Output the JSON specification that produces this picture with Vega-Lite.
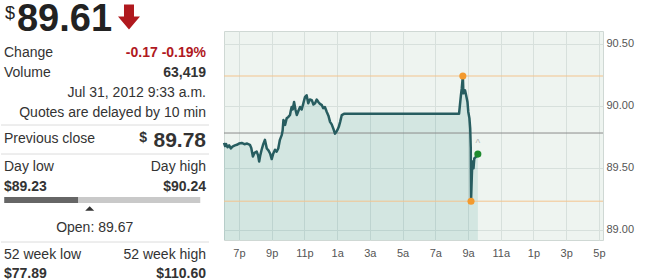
{
  "$schema": "https://vega.github.io/schema/vega-lite/v6.json",
  "background": "white",
  "padding": 0,
  "spacing": 12,
  "config": {"font": "Liberation Sans", "view": {"stroke": null}},
  "datasets": {
    "header": [{"symbol": "$", "price": 89.61, "change": -0.17, "line": -0.125, "side": "left"}],
    "table": [
      {"text": "Change", "side": "left", "line": 1, "role": "label"},
      {"text": "-0.17 -0.19%", "side": "right", "line": 1, "role": "change"},
      {"text": "Volume", "side": "left", "line": 2, "role": "label"},
      {"text": "63,419", "side": "right", "line": 2, "role": "value"},
      {"text": "Jul 31, 2012 9:33 a.m.", "side": "right", "line": 3, "role": "label"},
      {"text": "Quotes are delayed by 10 min", "side": "right", "line": 4, "role": "label"},
      {"text": "Previous close", "side": "left", "line": 5.3, "role": "label"},
      {"text": "Day low", "side": "left", "line": 6.7, "role": "label"},
      {"text": "Day high", "side": "right", "line": 6.7, "role": "label"},
      {"text": "$89.23", "side": "left", "line": 7.7, "role": "value"},
      {"text": "$90.24", "side": "right", "line": 7.7, "role": "value"},
      {"text": "52 week low", "side": "left", "line": 11.1, "role": "label"},
      {"text": "52 week high", "side": "right", "line": 11.1, "role": "label"},
      {"text": "$77.89", "side": "left", "line": 12.07, "role": "value"},
      {"text": "$110.60", "side": "right", "line": 12.07, "role": "value"}
    ],
    "prev": [{"label": "Previous close", "symbol": "$", "value": 89.78, "line": 5.3, "side": "right"}],
    "dayrange": [{"low": 89.23, "high": 90.24, "price": 89.61, "open": 89.67, "line": 8.35}],
    "separators": [{"line": 4.6}, {"line": 6.05}, {"line": 10.45}],
    "levels": [
      {"level": "Day high", "price": 90.24},
      {"level": "Day low", "price": 89.23},
      {"level": "Previous close", "price": 89.78}
    ],
    "points": [
      {"kind": "high", "t": "2012-07-31T08:41", "price": 90.24},
      {"kind": "low", "t": "2012-07-31T09:11", "price": 89.23},
      {"kind": "last", "t": "2012-07-31T09:36", "price": 89.61}
    ],
    "series": [
      {"t": "2012-07-30T18:05", "price": 89.70},
      {"t": "2012-07-30T18:09", "price": 89.675},
      {"t": "2012-07-30T18:13", "price": 89.69},
      {"t": "2012-07-30T18:18", "price": 89.665},
      {"t": "2012-07-30T18:24", "price": 89.68},
      {"t": "2012-07-30T18:30", "price": 89.655},
      {"t": "2012-07-30T18:36", "price": 89.67},
      {"t": "2012-07-30T18:45", "price": 89.68},
      {"t": "2012-07-30T18:52", "price": 89.685},
      {"t": "2012-07-30T19:00", "price": 89.695},
      {"t": "2012-07-30T19:10", "price": 89.70},
      {"t": "2012-07-30T19:20", "price": 89.69},
      {"t": "2012-07-30T19:30", "price": 89.695},
      {"t": "2012-07-30T19:40", "price": 89.685},
      {"t": "2012-07-30T19:45", "price": 89.66},
      {"t": "2012-07-30T19:51", "price": 89.59},
      {"t": "2012-07-30T19:57", "price": 89.62},
      {"t": "2012-07-30T20:05", "price": 89.63},
      {"t": "2012-07-30T20:10", "price": 89.60},
      {"t": "2012-07-30T20:14", "price": 89.55},
      {"t": "2012-07-30T20:18", "price": 89.60},
      {"t": "2012-07-30T20:23", "price": 89.645},
      {"t": "2012-07-30T20:29", "price": 89.69},
      {"t": "2012-07-30T20:35", "price": 89.725},
      {"t": "2012-07-30T20:42", "price": 89.655},
      {"t": "2012-07-30T20:48", "price": 89.64},
      {"t": "2012-07-30T20:54", "price": 89.615},
      {"t": "2012-07-30T21:00", "price": 89.57},
      {"t": "2012-07-30T21:05", "price": 89.61},
      {"t": "2012-07-30T21:12", "price": 89.645},
      {"t": "2012-07-30T21:18", "price": 89.63},
      {"t": "2012-07-30T21:24", "price": 89.655},
      {"t": "2012-07-30T21:30", "price": 89.725},
      {"t": "2012-07-30T21:37", "price": 89.765},
      {"t": "2012-07-30T21:40", "price": 89.80},
      {"t": "2012-07-30T21:43", "price": 89.885},
      {"t": "2012-07-30T21:46", "price": 89.86},
      {"t": "2012-07-30T21:49", "price": 89.845},
      {"t": "2012-07-30T21:55", "price": 89.90},
      {"t": "2012-07-30T22:01", "price": 89.91},
      {"t": "2012-07-30T22:07", "price": 89.925},
      {"t": "2012-07-30T22:10", "price": 89.96},
      {"t": "2012-07-30T22:13", "price": 89.99},
      {"t": "2012-07-30T22:17", "price": 89.97},
      {"t": "2012-07-30T22:22", "price": 90.03},
      {"t": "2012-07-30T22:27", "price": 89.97},
      {"t": "2012-07-30T22:32", "price": 89.925},
      {"t": "2012-07-30T22:38", "price": 89.96},
      {"t": "2012-07-30T22:44", "price": 89.99},
      {"t": "2012-07-30T22:50", "price": 89.97},
      {"t": "2012-07-30T22:56", "price": 90.02},
      {"t": "2012-07-30T23:02", "price": 90.07},
      {"t": "2012-07-30T23:08", "price": 90.085},
      {"t": "2012-07-30T23:14", "price": 90.02},
      {"t": "2012-07-30T23:20", "price": 90.05},
      {"t": "2012-07-30T23:27", "price": 90.045},
      {"t": "2012-07-30T23:33", "price": 90.01},
      {"t": "2012-07-30T23:39", "price": 90.02},
      {"t": "2012-07-30T23:45", "price": 90.05},
      {"t": "2012-07-30T23:51", "price": 90.03},
      {"t": "2012-07-30T23:57", "price": 90.015},
      {"t": "2012-07-31T00:04", "price": 90.005},
      {"t": "2012-07-31T00:09", "price": 89.98},
      {"t": "2012-07-31T00:15", "price": 89.99},
      {"t": "2012-07-31T00:22", "price": 89.95},
      {"t": "2012-07-31T00:28", "price": 89.92},
      {"t": "2012-07-31T00:34", "price": 89.87},
      {"t": "2012-07-31T00:40", "price": 89.85},
      {"t": "2012-07-31T00:46", "price": 89.815},
      {"t": "2012-07-31T00:52", "price": 89.775},
      {"t": "2012-07-31T00:57", "price": 89.79},
      {"t": "2012-07-31T01:01", "price": 89.805},
      {"t": "2012-07-31T01:06", "price": 89.83},
      {"t": "2012-07-31T01:11", "price": 89.87},
      {"t": "2012-07-31T01:17", "price": 89.925},
      {"t": "2012-07-31T01:25", "price": 89.935},
      {"t": "2012-07-31T08:27", "price": 89.935},
      {"t": "2012-07-31T08:34", "price": 90.085},
      {"t": "2012-07-31T08:37", "price": 90.14},
      {"t": "2012-07-31T08:41", "price": 90.24},
      {"t": "2012-07-31T08:43", "price": 90.10},
      {"t": "2012-07-31T08:49", "price": 90.125},
      {"t": "2012-07-31T08:53", "price": 90.085},
      {"t": "2012-07-31T08:58", "price": 90.03},
      {"t": "2012-07-31T09:01", "price": 89.95},
      {"t": "2012-07-31T09:05", "price": 89.90},
      {"t": "2012-07-31T09:08", "price": 89.815},
      {"t": "2012-07-31T09:10", "price": 89.655},
      {"t": "2012-07-31T09:11", "price": 89.23},
      {"t": "2012-07-31T09:14", "price": 89.44},
      {"t": "2012-07-31T09:16", "price": 89.55},
      {"t": "2012-07-31T09:20", "price": 89.495},
      {"t": "2012-07-31T09:23", "price": 89.575},
      {"t": "2012-07-31T09:30", "price": 89.59},
      {"t": "2012-07-31T09:36", "price": 89.61}
    ]
  },
  "hconcat": [
    {
      "width": 208,
      "height": 251,
      "view": {"stroke": null},
      "resolve": {"scale": {"x": "independent"}},
      "encoding": {
        "y": {"field": "line", "type": "quantitative", "scale": {"domain": [-0.1, 12.45], "reverse": true, "zero": false, "nice": false}, "axis": null}
      },
      "layer": [
        {
          "data": {"name": "separators"},
          "mark": {"type": "rule", "color": "#dcdcdc", "strokeWidth": 1},
          "encoding": {}
        },
        {
          "data": {"name": "header"},
          "mark": {"type": "text", "align": "left", "baseline": "alphabetic", "fontSize": 18, "dx": 1, "dy": -12, "color": "#222"},
          "encoding": {
            "x": {"field": "side", "type": "nominal", "scale": {"type": "point", "domain": ["left", "right"], "padding": 0.0148}, "axis": null},
            "text": {"field": "symbol"}
          }
        },
        {
          "data": {"name": "header"},
          "mark": {"type": "text", "align": "left", "baseline": "alphabetic", "fontSize": 38, "fontWeight": "bold", "dx": 13, "color": "#222"},
          "encoding": {
            "x": {"field": "side", "type": "nominal", "scale": {"type": "point", "domain": ["left", "right"], "padding": 0.0148}, "axis": null},
            "text": {"field": "price", "format": ".2f"}
          }
        },
        {
          "data": {"name": "header"},
          "mark": {"type": "point", "filled": true, "opacity": 1, "shape": "M-0.4,-1L0.4,-1L0.4,-0.05L0.88,-0.05L0,1L-0.88,-0.05L-0.4,-0.05Z", "size": 625, "color": "#b0191e", "xOffset": 125, "yOffset": -13.5},
          "encoding": {
            "x": {"field": "side", "type": "nominal", "scale": {"type": "point", "domain": ["left", "right"], "padding": 0.0148}, "axis": null}
          }
        },
        {
          "data": {"name": "table"},
          "transform": [{"filter": "datum.role == 'label' && datum.side == 'left'"}],
          "mark": {"type": "text", "align": "left", "baseline": "middle", "fontSize": 14, "color": "#333"},
          "encoding": {
            "x": {"field": "side", "type": "nominal", "scale": {"type": "point", "domain": ["left", "right"], "padding": 0.0148}, "axis": null},
            "text": {"field": "text"}
          }
        },
        {
          "data": {"name": "table"},
          "transform": [{"filter": "datum.role == 'label' && datum.side == 'right'"}],
          "mark": {"type": "text", "align": "right", "baseline": "middle", "fontSize": 14, "color": "#333"},
          "encoding": {
            "x": {"field": "side", "type": "nominal", "scale": {"type": "point", "domain": ["left", "right"], "padding": 0.0148}, "axis": null},
            "text": {"field": "text"}
          }
        },
        {
          "data": {"name": "table"},
          "transform": [{"filter": "datum.role == 'value' && datum.side == 'left'"}],
          "mark": {"type": "text", "align": "left", "baseline": "middle", "fontSize": 14, "fontWeight": "bold", "color": "#333"},
          "encoding": {
            "x": {"field": "side", "type": "nominal", "scale": {"type": "point", "domain": ["left", "right"], "padding": 0.0148}, "axis": null},
            "text": {"field": "text"}
          }
        },
        {
          "data": {"name": "table"},
          "transform": [{"filter": "datum.role == 'value' && datum.side == 'right'"}],
          "mark": {"type": "text", "align": "right", "baseline": "middle", "fontSize": 14, "fontWeight": "bold", "color": "#333"},
          "encoding": {
            "x": {"field": "side", "type": "nominal", "scale": {"type": "point", "domain": ["left", "right"], "padding": 0.0148}, "axis": null},
            "text": {"field": "text"}
          }
        },
        {
          "data": {"name": "table"},
          "transform": [{"filter": "datum.role == 'change'"}],
          "mark": {"type": "text", "align": "right", "baseline": "middle", "fontSize": 14, "fontWeight": "bold", "color": "#b0191e"},
          "encoding": {
            "x": {"field": "side", "type": "nominal", "scale": {"type": "point", "domain": ["left", "right"], "padding": 0.0148}, "axis": null},
            "text": {"field": "text"}
          }
        },
        {
          "data": {"name": "prev"},
          "mark": {"type": "text", "align": "right", "baseline": "middle", "fontSize": 21, "fontWeight": "bold", "dy": 2, "color": "#333"},
          "encoding": {
            "x": {"field": "side", "type": "nominal", "scale": {"type": "point", "domain": ["left", "right"], "padding": 0.0148}, "axis": null},
            "text": {"field": "value", "format": ".2f"}
          }
        },
        {
          "data": {"name": "prev"},
          "mark": {"type": "text", "align": "right", "baseline": "middle", "fontSize": 14, "fontWeight": "bold", "dx": -59, "dy": -1, "color": "#333"},
          "encoding": {
            "x": {"field": "side", "type": "nominal", "scale": {"type": "point", "domain": ["left", "right"], "padding": 0.0148}, "axis": null},
            "text": {"field": "symbol"}
          }
        },
        {
          "data": {"name": "dayrange"},
          "mark": {"type": "rule", "strokeWidth": 6, "strokeCap": "butt", "color": "#c9c9c9"},
          "encoding": {
            "x": {"field": "low", "type": "quantitative", "scale": {"domain": [89.213, 90.285], "zero": false, "nice": false}, "axis": null},
            "x2": {"field": "high"}
          }
        },
        {
          "data": {"name": "dayrange"},
          "mark": {"type": "rule", "strokeWidth": 6, "strokeCap": "butt", "color": "#666666"},
          "encoding": {
            "x": {"field": "low", "type": "quantitative", "scale": {"domain": [89.213, 90.285], "zero": false, "nice": false}, "axis": null},
            "x2": {"field": "price"}
          }
        },
        {
          "data": {"name": "dayrange"},
          "mark": {"type": "point", "filled": true, "opacity": 1, "shape": "M-1,0.5L1,0.5L0,-0.5Z", "size": 81, "color": "#333", "yOffset": 8.5},
          "encoding": {
            "x": {"field": "open", "type": "quantitative", "scale": {"domain": [89.213, 90.285], "zero": false, "nice": false}, "axis": null}
          }
        },
        {
          "data": {"name": "dayrange"},
          "transform": [{"calculate": "'Open: ' + format(datum.open, '.2f')", "as": "open_text"}],
          "mark": {"type": "text", "align": "center", "baseline": "middle", "fontSize": 14, "dx": 5, "dy": 28, "color": "#333"},
          "encoding": {
            "x": {"field": "open", "type": "quantitative", "scale": {"domain": [89.213, 90.285], "zero": false, "nice": false}, "axis": null},
            "text": {"field": "open_text"}
          }
        }
      ]
    },
    {
      "width": 379,
      "height": 209,
      "view": {"fill": "#eef4f0", "stroke": "#cfd8d4"},
      "resolve": {"scale": {"color": "independent"}},
      "layer": [
        {
          "data": {"name": "series"},
          "mark": {"type": "area", "color": "#148278", "opacity": 0.12, "clip": true},
          "encoding": {
            "x": {
              "field": "t", "type": "temporal",
              "scale": {"domain": [{"year": 2012, "month": 7, "date": 30, "hours": 18, "minutes": 5}, {"year": 2012, "month": 7, "date": 31, "hours": 17, "minutes": 15}], "nice": false},
              "axis": {
                "values": [
                  {"year": 2012, "month": 7, "date": 30, "hours": 19},
                  {"year": 2012, "month": 7, "date": 30, "hours": 21},
                  {"year": 2012, "month": 7, "date": 30, "hours": 23},
                  {"year": 2012, "month": 7, "date": 31, "hours": 1},
                  {"year": 2012, "month": 7, "date": 31, "hours": 3},
                  {"year": 2012, "month": 7, "date": 31, "hours": 5},
                  {"year": 2012, "month": 7, "date": 31, "hours": 7},
                  {"year": 2012, "month": 7, "date": 31, "hours": 9},
                  {"year": 2012, "month": 7, "date": 31, "hours": 11},
                  {"year": 2012, "month": 7, "date": 31, "hours": 13},
                  {"year": 2012, "month": 7, "date": 31, "hours": 15},
                  {"year": 2012, "month": 7, "date": 31, "hours": 17}
                ],
                "labelExpr": "lower(replace(timeFormat(datum.value, '%-I%p'), 'M', ''))",
                "grid": true, "gridColor": "#d7e0dc", "domain": false, "ticks": false,
                "labelPadding": 7, "labelFontSize": 11, "labelColor": "#555", "labelFlush": false, "labelOverlap": false, "title": null
              }
            },
            "y": {
              "field": "price", "type": "quantitative",
              "scale": {"domain": [88.917, 90.603], "zero": false, "nice": false},
              "axis": {
                "orient": "right", "values": [89, 89.5, 90, 90.5], "format": ".2f",
                "grid": true, "gridColor": "#d7e0dc", "domain": false, "ticks": false,
                "labelPadding": 3, "labelFontSize": 11, "labelColor": "#555", "title": null
              }
            }
          }
        },
        {
          "data": {"name": "levels"},
          "mark": {"type": "rule", "strokeWidth": 1},
          "encoding": {
            "y": {
              "field": "price", "type": "quantitative",
              "scale": {"domain": [88.917, 90.603], "zero": false, "nice": false},
              "axis": {
                "orient": "right", "values": [89, 89.5, 90, 90.5], "format": ".2f",
                "grid": true, "gridColor": "#d7e0dc", "domain": false, "ticks": false,
                "labelPadding": 3, "labelFontSize": 11, "labelColor": "#555", "title": null
              }
            },
            "color": {"field": "level", "type": "nominal", "scale": {"domain": ["Day high", "Day low", "Previous close"], "range": ["#f3c48f", "#f3c48f", "#8c8c8c"]}, "legend": null}
          }
        },
        {
          "data": {"name": "series"},
          "mark": {"type": "line", "color": "#275d60", "strokeWidth": 2.5, "strokeJoin": "round"},
          "encoding": {
            "x": {
              "field": "t", "type": "temporal",
              "scale": {"domain": [{"year": 2012, "month": 7, "date": 30, "hours": 18, "minutes": 5}, {"year": 2012, "month": 7, "date": 31, "hours": 17, "minutes": 15}], "nice": false},
              "axis": {
                "values": [
                  {"year": 2012, "month": 7, "date": 30, "hours": 19},
                  {"year": 2012, "month": 7, "date": 30, "hours": 21},
                  {"year": 2012, "month": 7, "date": 30, "hours": 23},
                  {"year": 2012, "month": 7, "date": 31, "hours": 1},
                  {"year": 2012, "month": 7, "date": 31, "hours": 3},
                  {"year": 2012, "month": 7, "date": 31, "hours": 5},
                  {"year": 2012, "month": 7, "date": 31, "hours": 7},
                  {"year": 2012, "month": 7, "date": 31, "hours": 9},
                  {"year": 2012, "month": 7, "date": 31, "hours": 11},
                  {"year": 2012, "month": 7, "date": 31, "hours": 13},
                  {"year": 2012, "month": 7, "date": 31, "hours": 15},
                  {"year": 2012, "month": 7, "date": 31, "hours": 17}
                ],
                "labelExpr": "lower(replace(timeFormat(datum.value, '%-I%p'), 'M', ''))",
                "grid": true, "gridColor": "#d7e0dc", "domain": false, "ticks": false,
                "labelPadding": 7, "labelFontSize": 11, "labelColor": "#555", "labelFlush": false, "labelOverlap": false, "title": null
              }
            },
            "y": {
              "field": "price", "type": "quantitative",
              "scale": {"domain": [88.917, 90.603], "zero": false, "nice": false},
              "axis": {
                "orient": "right", "values": [89, 89.5, 90, 90.5], "format": ".2f",
                "grid": true, "gridColor": "#d7e0dc", "domain": false, "ticks": false,
                "labelPadding": 3, "labelFontSize": 11, "labelColor": "#555", "title": null
              }
            }
          }
        },
        {
          "data": {"name": "points"},
          "mark": {"type": "point", "filled": true, "opacity": 1, "size": 50},
          "encoding": {
            "x": {
              "field": "t", "type": "temporal",
              "scale": {"domain": [{"year": 2012, "month": 7, "date": 30, "hours": 18, "minutes": 5}, {"year": 2012, "month": 7, "date": 31, "hours": 17, "minutes": 15}], "nice": false},
              "axis": {
                "values": [
                  {"year": 2012, "month": 7, "date": 30, "hours": 19},
                  {"year": 2012, "month": 7, "date": 30, "hours": 21},
                  {"year": 2012, "month": 7, "date": 30, "hours": 23},
                  {"year": 2012, "month": 7, "date": 31, "hours": 1},
                  {"year": 2012, "month": 7, "date": 31, "hours": 3},
                  {"year": 2012, "month": 7, "date": 31, "hours": 5},
                  {"year": 2012, "month": 7, "date": 31, "hours": 7},
                  {"year": 2012, "month": 7, "date": 31, "hours": 9},
                  {"year": 2012, "month": 7, "date": 31, "hours": 11},
                  {"year": 2012, "month": 7, "date": 31, "hours": 13},
                  {"year": 2012, "month": 7, "date": 31, "hours": 15},
                  {"year": 2012, "month": 7, "date": 31, "hours": 17}
                ],
                "labelExpr": "lower(replace(timeFormat(datum.value, '%-I%p'), 'M', ''))",
                "grid": true, "gridColor": "#d7e0dc", "domain": false, "ticks": false,
                "labelPadding": 7, "labelFontSize": 11, "labelColor": "#555", "labelFlush": false, "labelOverlap": false, "title": null
              }
            },
            "y": {
              "field": "price", "type": "quantitative",
              "scale": {"domain": [88.917, 90.603], "zero": false, "nice": false},
              "axis": {
                "orient": "right", "values": [89, 89.5, 90, 90.5], "format": ".2f",
                "grid": true, "gridColor": "#d7e0dc", "domain": false, "ticks": false,
                "labelPadding": 3, "labelFontSize": 11, "labelColor": "#555", "title": null
              }
            },
            "color": {"field": "kind", "type": "nominal", "scale": {"domain": ["high", "low", "last"], "range": ["#f39a2e", "#f39a2e", "#1e8a2e"]}, "legend": null}
          }
        },
        {
          "data": {"name": "points"},
          "transform": [{"filter": "datum.kind == 'last'"}],
          "mark": {"type": "text", "text": "^", "dy": -10, "fontSize": 10, "color": "#b5b5b5"},
          "encoding": {
            "x": {
              "field": "t", "type": "temporal",
              "scale": {"domain": [{"year": 2012, "month": 7, "date": 30, "hours": 18, "minutes": 5}, {"year": 2012, "month": 7, "date": 31, "hours": 17, "minutes": 15}], "nice": false},
              "axis": {
                "values": [
                  {"year": 2012, "month": 7, "date": 30, "hours": 19},
                  {"year": 2012, "month": 7, "date": 30, "hours": 21},
                  {"year": 2012, "month": 7, "date": 30, "hours": 23},
                  {"year": 2012, "month": 7, "date": 31, "hours": 1},
                  {"year": 2012, "month": 7, "date": 31, "hours": 3},
                  {"year": 2012, "month": 7, "date": 31, "hours": 5},
                  {"year": 2012, "month": 7, "date": 31, "hours": 7},
                  {"year": 2012, "month": 7, "date": 31, "hours": 9},
                  {"year": 2012, "month": 7, "date": 31, "hours": 11},
                  {"year": 2012, "month": 7, "date": 31, "hours": 13},
                  {"year": 2012, "month": 7, "date": 31, "hours": 15},
                  {"year": 2012, "month": 7, "date": 31, "hours": 17}
                ],
                "labelExpr": "lower(replace(timeFormat(datum.value, '%-I%p'), 'M', ''))",
                "grid": true, "gridColor": "#d7e0dc", "domain": false, "ticks": false,
                "labelPadding": 7, "labelFontSize": 11, "labelColor": "#555", "labelFlush": false, "labelOverlap": false, "title": null
              }
            },
            "y": {
              "field": "price", "type": "quantitative",
              "scale": {"domain": [88.917, 90.603], "zero": false, "nice": false},
              "axis": {
                "orient": "right", "values": [89, 89.5, 90, 90.5], "format": ".2f",
                "grid": true, "gridColor": "#d7e0dc", "domain": false, "ticks": false,
                "labelPadding": 3, "labelFontSize": 11, "labelColor": "#555", "title": null
              }
            }
          }
        }
      ]
    }
  ]
}
